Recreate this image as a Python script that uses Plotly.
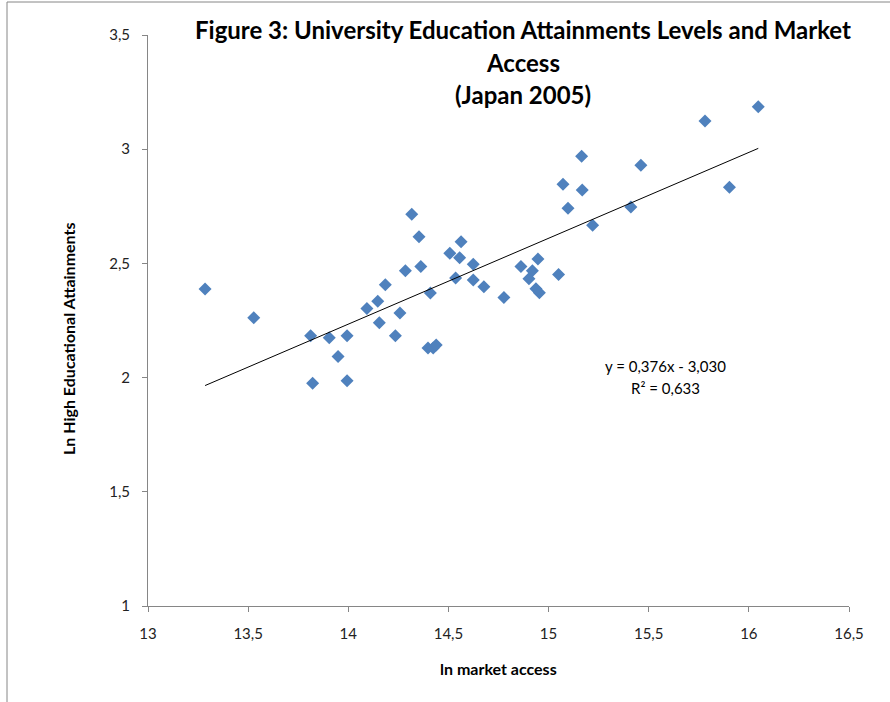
import plotly.graph_objects as go

# ln market access and ln high educational attainments, Japanese prefectures, 2005
ln_market_access = [
    13.285, 13.528, 13.812, 13.822, 13.905, 13.949, 13.994, 13.994, 14.093, 14.147,
    14.155, 14.185, 14.235, 14.258, 14.285, 14.317, 14.353, 14.362, 14.398, 14.410,
    14.424, 14.439, 14.507, 14.536, 14.556, 14.563, 14.624, 14.624, 14.677, 14.777,
    14.862, 14.919, 14.947, 14.902, 14.937, 14.954, 15.050, 15.072, 15.097, 15.165,
    15.168, 15.220, 15.411, 15.461, 15.781, 15.903, 16.047,
]
ln_high_education = [
    2.388, 2.262, 2.183, 1.975, 2.175, 2.092, 2.183, 1.986, 2.302, 2.334,
    2.240, 2.407, 2.183, 2.283, 2.468, 2.715, 2.617, 2.486, 2.130, 2.370,
    2.130, 2.143, 2.544, 2.436, 2.525, 2.595, 2.496, 2.427, 2.398, 2.351,
    2.486, 2.468, 2.519, 2.433, 2.389, 2.372, 2.451, 2.846, 2.741, 2.969,
    2.821, 2.667, 2.747, 2.930, 3.123, 2.833, 3.186,
]

# linear trend reported on the chart
slope = 0.376
intercept = -3.030
r_squared = 0.633

x_ticks = [13, 13.5, 14, 14.5, 15, 15.5, 16, 16.5]
y_ticks = [1, 1.5, 2, 2.5, 3, 3.5]

title_lines = [
    "Figure 3: University Education Attainments Levels and Market",
    "Access",
    "(Japan 2005)",
]

FONT = "Lato"

trend_x = [min(ln_market_access), max(ln_market_access)]
trend_y = [slope * v + intercept for v in trend_x]

fig = go.Figure()
fig.add_trace(go.Scatter(
    x=ln_market_access, y=ln_high_education, mode="markers",
    marker=dict(symbol="diamond", size=10, color="#4F81BD", line=dict(width=0)),
    showlegend=False, hoverinfo="x+y",
))
fig.add_trace(go.Scatter(
    x=trend_x, y=trend_y, mode="lines",
    line=dict(color="#000000", width=1),
    showlegend=False, hoverinfo="skip",
))

axis_common = dict(
    showgrid=False, zeroline=False, showline=True, linecolor="#868686", linewidth=1,
    ticks="outside", ticklen=5, tickcolor="#868686", tickwidth=1,
    tickfont=dict(family=FONT, size=15, color="#222222"),
)
fig.update_xaxes(range=[13, 16.5], tickvals=x_ticks, ticklabelstandoff=9, **axis_common)
fig.update_yaxes(range=[1, 3.5], tickvals=y_ticks, ticklabelstandoff=9, **axis_common)

annotations = []
for text, ypx in zip(title_lines, [30, 62, 95]):
    annotations.append(dict(
        text=f"<b>{text}</b>", xref="paper", yref="paper",
        x=(523 - 148) / 701, y=(606 - ypx) / 571, xanchor="center", yanchor="middle",
        showarrow=False, font=dict(family=FONT, size=24, color="#000000"),
    ))
annotations.append(dict(
    text="<b>Ln High Educational Attainments</b>", xref="paper", yref="paper",
    x=(68 - 148) / 701, y=(606 - 339) / 571, xanchor="center", yanchor="middle",
    textangle=-90, showarrow=False, font=dict(family=FONT, size=16, color="#000000"),
))
annotations.append(dict(
    text="<b>ln market access</b>", xref="paper", yref="paper",
    x=0.5, y=(606 - 668) / 571, xanchor="center", yanchor="middle",
    showarrow=False, font=dict(family=FONT, size=16, color="#000000"),
))
eq_text = f"y = {slope:.3f}x - {abs(intercept):.3f}".replace(".", ",")
r2_text = f"R² = {r_squared:.3f}".replace(".", ",")
for text, ypx in [(eq_text, 366), (r2_text, 388)]:
    annotations.append(dict(
        text=text, xref="paper", yref="paper",
        x=(665 - 148) / 701, y=(606 - ypx) / 571, xanchor="center", yanchor="middle",
        showarrow=False, font=dict(family=FONT, size=15, color="#000000"),
    ))

fig.update_layout(
    width=890, height=702,
    margin=dict(l=148, r=41, t=35, b=96),
    paper_bgcolor="#ffffff", plot_bgcolor="#ffffff",
    separators=", ",
    annotations=annotations,
    shapes=[dict(
        type="rect", xref="paper", yref="paper",
        x0=(7 - 148) / 701, x1=(900 - 148) / 701,
        y0=(606 - 720) / 571, y1=(606 - 2) / 571,
        line=dict(color="#868686", width=1), fillcolor="rgba(0,0,0,0)", layer="below",
    )],
)

fig.write_html("out.html")
